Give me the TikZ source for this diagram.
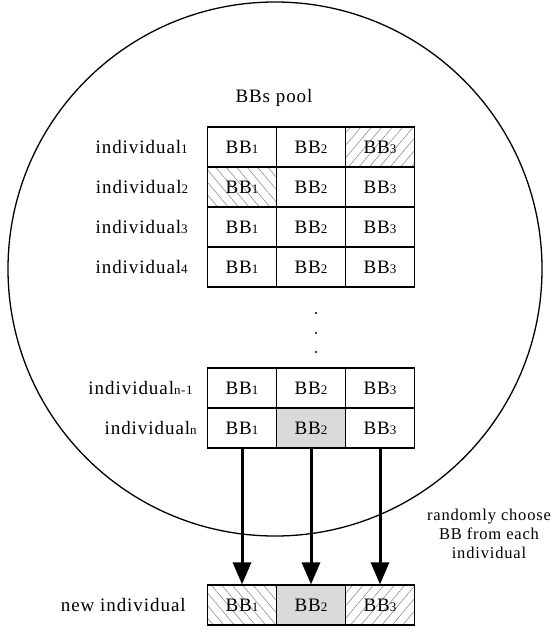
\documentclass[tikz,border=0pt]{standalone}
\usepackage{fontspec}
\setmainfont{Liberation Serif}[LetterSpace=5]
\usetikzlibrary{positioning,arrows.meta,patterns.meta}

\newcommand{\subidx}[1]{{\fontsize{13pt}{13pt}\selectfont #1}}

\tikzset{
	cell/.style={draw, line width=1.2pt, minimum width=69pt, minimum height=40pt,
		inner sep=0pt, font=\fontsize{19pt}{22pt}\selectfont},
	lbl/.style={inner sep=0pt, anchor=east, font=\fontsize{19pt}{22pt}\selectfont},
	hatchup/.style={pattern={Lines[angle=50, distance=8pt, line width=0.5pt]}, pattern color=gray},
	hatchdown/.style={pattern={Lines[angle=-50, distance=8pt, line width=0.5pt]}, pattern color=gray},
	picked/.style={fill=black!15},
	choose/.style={line width=3pt, -{Triangle[length=22pt, width=18pt]}}
}

\begin{document}
\begin{tikzpicture}[x=1pt, y=1pt]
			\useasboundingbox (0, 0) rectangle (554, -632);

			\draw[line width=1.3pt]	(275, -269) circle (267);

			\node[font=\fontsize{19pt}{22pt}\selectfont] (pool) at (274, -98) {BBs pool};

			% the pool
			\node[cell] (r1c1) at (242, -147) {BB\subidx{1}};
			\node[cell] (r1c2) at (311, -147) {BB\subidx{2}};
			\node[cell, hatchup] (r1c3) at (380, -147) {BB\subidx{3}};

			\node[cell, hatchdown] (r2c1) at (242, -187) {BB\subidx{1}};
			\node[cell] (r2c2) at (311, -187) {BB\subidx{2}};
			\node[cell] (r2c3) at (380, -187) {BB\subidx{3}};

			\node[cell] (r3c1) at (242, -227) {BB\subidx{1}};
			\node[cell] (r3c2) at (311, -227) {BB\subidx{2}};
			\node[cell] (r3c3) at (380, -227) {BB\subidx{3}};

			\node[cell] (r4c1) at (242, -267) {BB\subidx{1}};
			\node[cell] (r4c2) at (311, -267) {BB\subidx{2}};
			\node[cell] (r4c3) at (380, -267) {BB\subidx{3}};

			\node[cell] (r5c1) at (242, -388) {BB\subidx{1}};
			\node[cell] (r5c2) at (311, -388) {BB\subidx{2}};
			\node[cell] (r5c3) at (380, -388) {BB\subidx{3}};

			\node[cell] (r6c1) at (242, -428) {BB\subidx{1}};
			\node[cell, picked] (r6c2) at (311, -428) {BB\subidx{2}};
			\node[cell] (r6c3) at (380, -428) {BB\subidx{3}};

			\fill	(316, -313) circle (1.1)
					(316, -333) circle (1.1)
					(316, -352) circle (1.1);

			\node[lbl, left=19pt of r1c1] (lab1) {individual\subidx{1}};
			\node[lbl, left=19pt of r2c1] (lab2) {individual\subidx{2}};
			\node[lbl, left=19pt of r3c1] (lab3) {individual\subidx{3}};
			\node[lbl, left=19pt of r4c1] (lab4) {individual\subidx{4}};
			\node[lbl, left=14pt of r5c1] (lab5) {individual\subidx{n-1}};
			\node[lbl, left=10pt of r6c1] (lab6) {individual\subidx{n}};

			% the new one
			\node[cell, hatchdown] (new1) at (242, -605) {BB\subidx{1}};
			\node[cell, picked] (new2) at (311, -605) {BB\subidx{2}};
			\node[cell, hatchup] (new3) at (380, -605) {BB\subidx{3}};

			\node[lbl, left=21pt of new1] (labnew) {new individual};

			\draw[choose]	(r6c1) to (new1);
			\draw[choose]	(r6c2) to (new2);
			\draw[choose]	(r6c3) to (new3);

			\node[align=center, inner sep=0pt, font=\fontsize{16.5pt}{19pt}\selectfont] (how) at (489, -534)
				{randomly choose\\BB from each\\individual};
		\end{tikzpicture}
\end{document}
